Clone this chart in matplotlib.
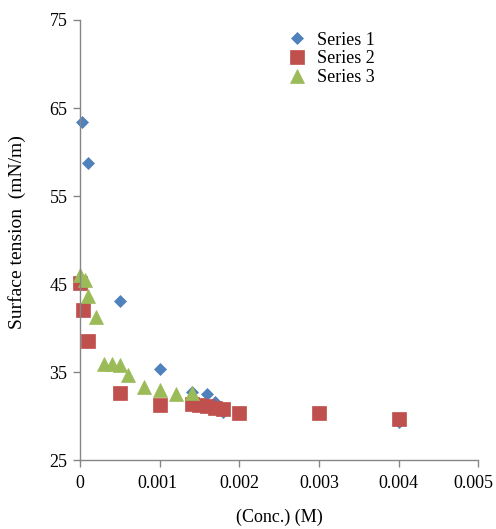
import matplotlib
matplotlib.use("Agg")
import matplotlib.pyplot as plt
from matplotlib.transforms import ScaledTranslation

s1_x = [0.00003, 0.0001, 0.0005, 0.001, 0.0014, 0.0016, 0.0017, 0.0018, 0.003, 0.004]
s1_y = [63.4, 58.7, 43.1, 35.3, 32.7, 32.5, 31.6, 30.5, 30.5, 29.3]

s2_x = [0.0, 0.00004, 0.0001, 0.0005, 0.001, 0.0014, 0.0015, 0.0016, 0.0017, 0.0018, 0.002, 0.003, 0.004]
s2_y = [45.1, 42.0, 38.5, 32.6, 31.2, 31.4, 31.2, 31.1, 30.9, 30.8, 30.3, 30.3, 29.7]

s3_x = [0.0, 0.00006, 0.0001, 0.0002, 0.0003, 0.0004, 0.0005, 0.0006, 0.0008, 0.001, 0.0012, 0.0014]
s3_y = [46.0, 45.5, 43.6, 41.2, 35.9, 35.9, 35.8, 34.7, 33.3, 32.9, 32.5, 32.6]

x_ticks = [0, 0.001, 0.002, 0.003, 0.004, 0.005]
x_labels = ["0", "0.001", "0.002", "0.003", "0.004", "0.005"]
y_ticks = [25, 35, 45, 55, 65, 75]

plt.rcParams['font.family'] = ['Liberation Serif', 'DejaVu Serif']

fig = plt.figure(figsize=(4.96, 5.29), dpi=100)
ax = fig.add_axes([0.1613, 0.1304, 0.8030, 0.8318])

ax.plot(s1_x, s1_y, linestyle='none', marker='D', ms=6.6, color='#4F81BD', mec='#4F81BD', mew=0.5, label='Series 1', clip_on=False)
ax.plot(s2_x, s2_y, linestyle='none', marker='s', ms=9.4, color='#C0504D', mec='#C0504D', mew=0.5, label='Series 2', clip_on=False)
ax.plot(s3_x, s3_y, linestyle='none', marker='^', ms=9.5, color='#9BBB59', mec='#9BBB59', mew=0.5, label='Series 3', clip_on=False)

ax.set_xlim(0, 0.005)
ax.set_ylim(25, 75)
ax.set_xticks(x_ticks)
ax.set_xticklabels(x_labels)
ax.set_yticks(y_ticks)

for side in ['top', 'right']:
    ax.spines[side].set_visible(False)
for side in ['left', 'bottom']:
    ax.spines[side].set_color('#868686')
    ax.spines[side].set_linewidth(1.0)
ax.tick_params(axis='both', direction='out', length=5, width=1.0, color='#868686', labelsize=13, labelcolor='black')
ax.tick_params(axis='x', pad=6)
ax.tick_params(axis='y', pad=4)

# shift last x tick label left so it fits (as in reference)
lbls = ax.get_xticklabels()
lbls[-1].set_transform(lbls[-1].get_transform() + ScaledTranslation(-5 / 100, 0, fig.dpi_scale_trans))
lbls[1].set_transform(lbls[1].get_transform() + ScaledTranslation(-2 / 100, 0, fig.dpi_scale_trans))

ax.set_xlabel('(Conc.) (M)', fontsize=13, labelpad=12)
ax.set_ylabel('Surface tension  (mN/m)', fontsize=14)
ax.yaxis.set_label_coords(-0.136, 0.518)

leg = ax.legend(loc='upper left', bbox_to_anchor=(0.50, 0.99), frameon=False, fontsize=13,
                handlelength=1.2, handletextpad=0.5, labelspacing=0.1, borderaxespad=0)

fig.savefig('out.png', dpi=100)
